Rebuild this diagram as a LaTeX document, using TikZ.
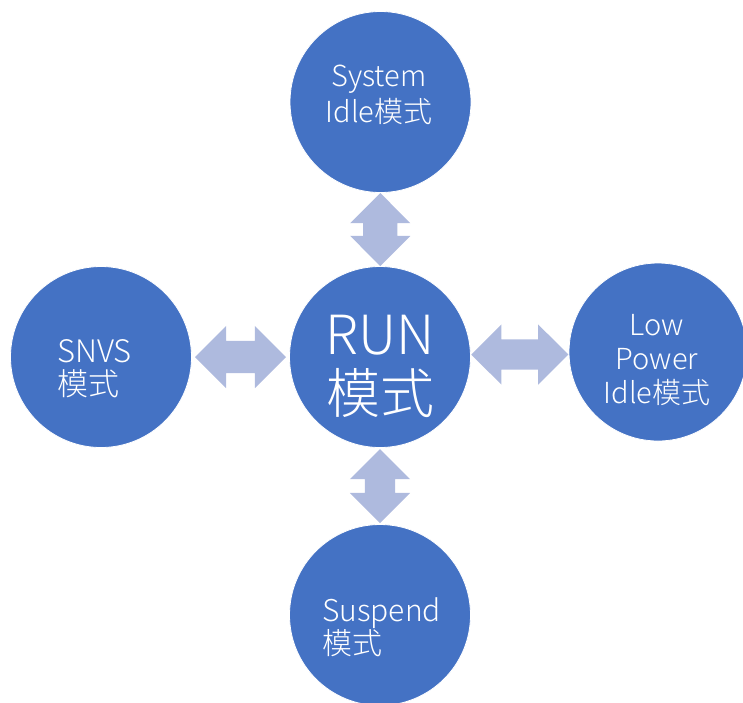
\documentclass[tikz,border=0pt]{standalone}
\usepackage{fontspec}
\IfFontExistsTF{Noto Sans CJK SC Light}
  {\setmainfont{Noto Sans CJK SC Light}}
  {\setmainfont{Noto Sans CJK SC}}
\usetikzlibrary{shapes.arrows,calc}
\definecolor{circblue}{HTML}{4472C4}
\definecolor{arrowblue}{HTML}{AEBADE}
\begin{document}
\begin{tikzpicture}[x=1pt,y=-1pt,
  state/.style={circle, fill=circblue, draw=white, line width=0.8pt,
                minimum size=181pt, inner sep=0pt},
  link/.style={double arrow, fill=arrowblue, draw=none,
               inner xsep=0pt, inner ysep=15pt,
               double arrow head extend=15pt},
  txt/.style={text=white, inner sep=0pt}]
\useasboundingbox (0,0) rectangle (743,702);

% mode circles
\node[state] (sys)  at (380.5,102) {};
\node[state] (run)  at (380,357) {};
\node[state] (snvs) at (101,357) {};
\node[state, minimum size=178pt] (lpi) at (658,352) {};
\node[state] (sus)  at (380,615) {};

% two-way transitions
\node[link, minimum height=91pt, inner ysep=16pt]
  (a1) at ($(snvs.east)!0.5!(run.west)$) {};
\node[link, minimum height=97pt]
  (a2) at ($(run.east)!0.5!(lpi.west)$) {};
\node[link, minimum height=73pt, rotate=90, inner ysep=17pt,
      double arrow head extend=13pt]
  (a3) at ($(sys.south)!0.5!(run.north)$) {};
\node[link, minimum height=74pt, rotate=90]
  (a4) at ($(run.south)!0.5!(sus.north)$) {};

% labels
\node[txt, font=\fontsize{29}{36}\selectfont, align=center]
  (tsys) at (379,95) {System\\Idle模式};
\node[txt, font=\fontsize{54}{59}\selectfont, align=center]
  (trun) at (380,366) {RUN\\模式};
\node[txt, font=\fontsize{31}{33}\selectfont, align=left, anchor=west]
  (tsnvs) at (57,369) {SNVS\\模式};
\node[txt, font=\fontsize{29}{34}\selectfont, align=center]
  (tlpi) at (657,360) {Low\\Power\\Idle模式};
\node[txt, font=\fontsize{30}{31}\selectfont, align=left, anchor=west]
  (tsus) at (322,627) {Suspend\\模式};
\end{tikzpicture}
\end{document}
